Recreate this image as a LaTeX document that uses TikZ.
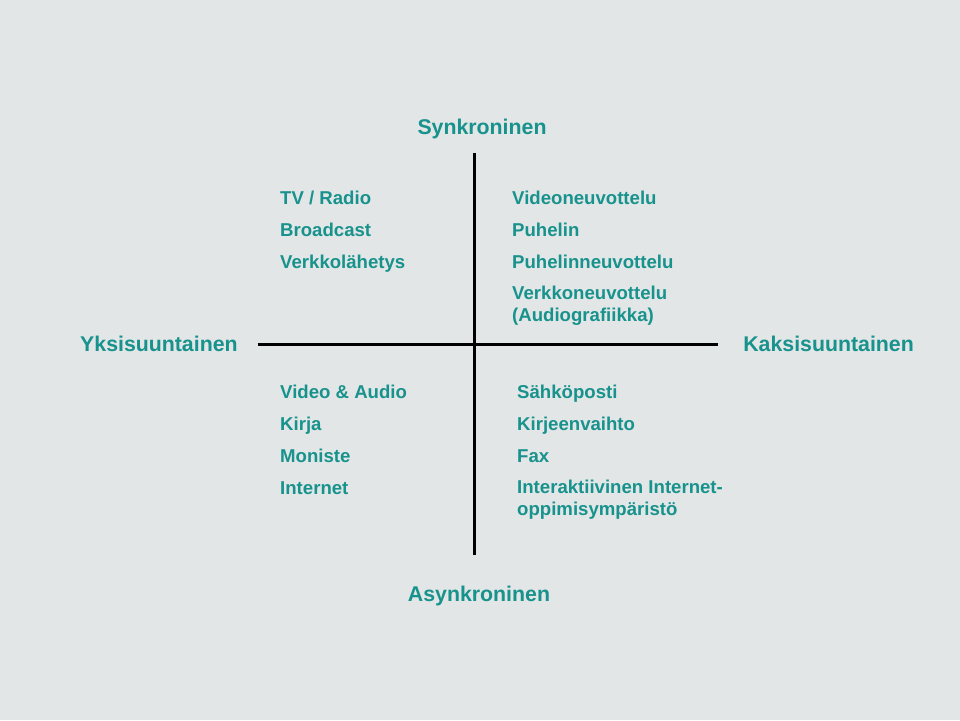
\documentclass[tikz,border=0pt]{standalone}
\usepackage{fontspec}
\setmainfont{Liberation Sans}
\usepackage{tikz}
\definecolor{tealtext}{RGB}{23,146,140}
\definecolor{bggrey}{RGB}{226,230,230}

\begin{document}
\begin{tikzpicture}[x=1pt,y=-1pt,
    axis/.style={line width=3pt},
    head/.style={text=tealtext,font=\fontsize{21.3}{25}\selectfont\bfseries,inner sep=0pt,anchor=base},
    item/.style={text=tealtext,font=\fontsize{18.6}{21.5}\selectfont\bfseries,inner sep=0pt,anchor=base west,align=left}]
    \fill[bggrey] (0,0) rectangle (960,720);
    \useasboundingbox (0,0) rectangle (960,720);
    % axes
    \coordinate (n) at (474,153); \coordinate (s) at (474,555);
    \coordinate (w) at (258,344); \coordinate (e) at (718,344);
    \draw[axis] (n) -- (s); \draw[axis] (w) -- (e);
    % headings
    \node[head] (syn) at (482,134) {Synkroninen};
    \node[head] (asyn) at (479,601) {Asynkroninen};
    \node[head,anchor=base west] (yks) at (80,351) {Yksisuuntainen};
    \node[head,anchor=base east] (kaks) at (914,351) {Kaksisuuntainen};
    % synchronous, one way
    \node[item] (a1) at (280,204) {TV / Radio};
    \node[item] (a2) at (280,236) {Broadcast};
    \node[item] (a3) at (280,268) {Verkkolähetys};
    % synchronous, two way
    \node[item] (b1) at (512,204) {Videoneuvottelu};
    \node[item] (b2) at (512,236) {Puhelin};
    \node[item] (b3) at (512,268) {Puhelinneuvottelu};
    \node[item] (b4) at (512,321) {Verkkoneuvottelu\\(Audiografiikka)};
    % asynchronous, one way
    \node[item] (c1) at (280,398) {Video \& Audio};
    \node[item] (c2) at (280,430) {Kirja};
    \node[item] (c3) at (280,462) {Moniste};
    \node[item] (c4) at (280,494) {Internet};
    % asynchronous, two way
    \node[item] (d1) at (517,398) {Sähköposti};
    \node[item] (d2) at (517,430) {Kirjeenvaihto};
    \node[item] (d3) at (517,462) {Fax};
    \node[item] (d4) at (517,515) {Interaktiivinen Internet-\\oppimisympäristö};
\end{tikzpicture}
\end{document}
